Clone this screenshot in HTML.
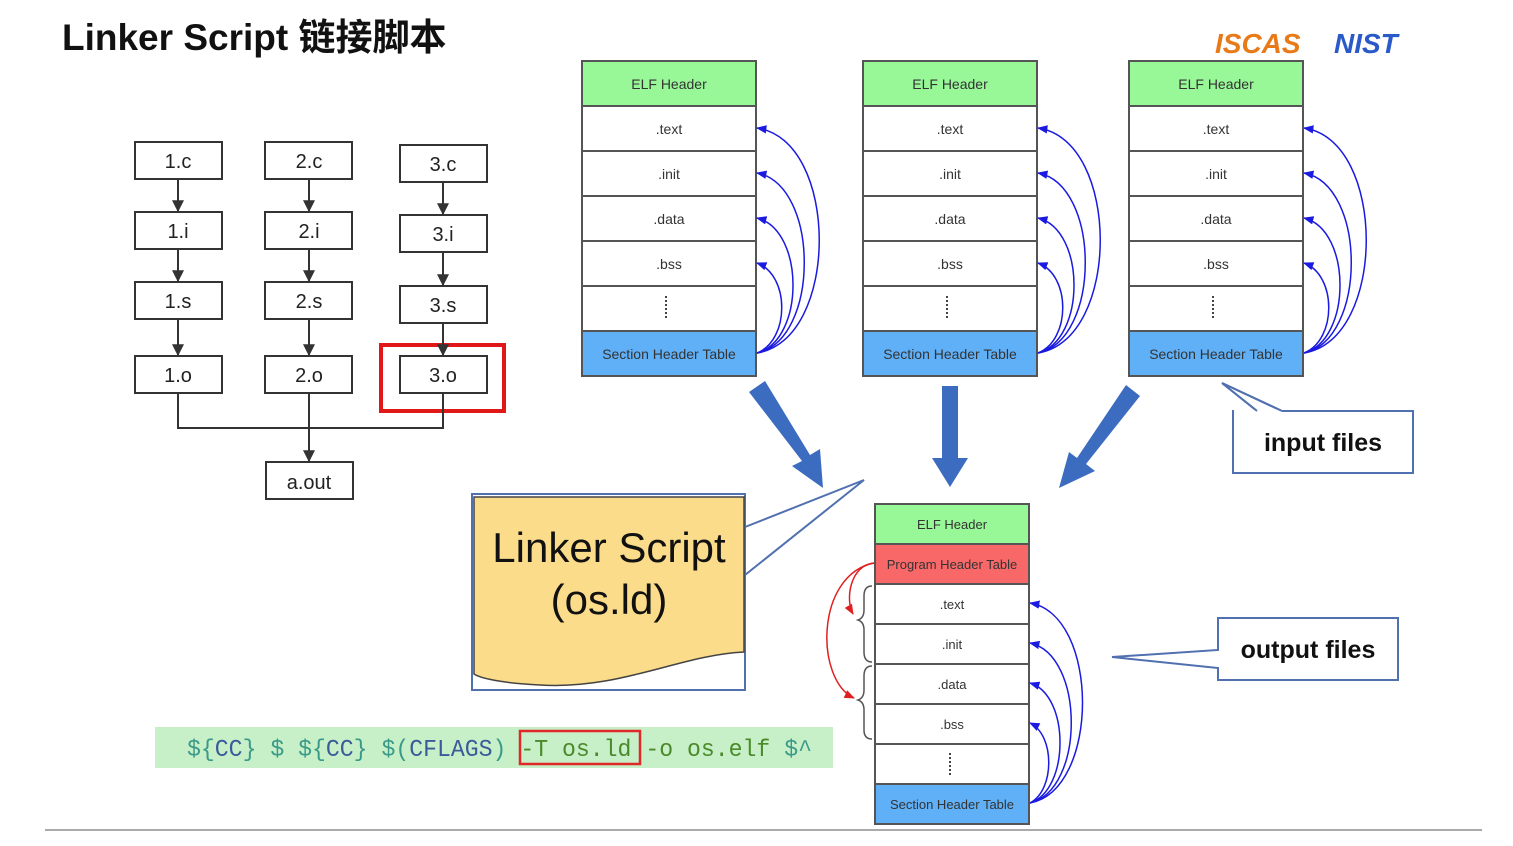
<!DOCTYPE html>
<html><head><meta charset="utf-8"><style>
body{margin:0;background:#fff}
svg{display:block}
text{font-family:"Liberation Sans","Noto Sans CJK SC",sans-serif}
text.mono{font-family:"Liberation Mono","DejaVu Sans Mono",monospace}
</style></head><body>
<svg width="1513" height="846" viewBox="0 0 1513 846" xmlns="http://www.w3.org/2000/svg">
<defs>
<marker id="ab" viewBox="0 0 10 10" refX="9" refY="5" markerWidth="7" markerHeight="7" orient="auto"><path d="M0,1 L10,5 L0,9z" fill="#1a1ae0"/></marker>
<marker id="ar" viewBox="0 0 10 10" refX="9" refY="5" markerWidth="7" markerHeight="7" orient="auto"><path d="M0,1 L10,5 L0,9z" fill="#e02020"/></marker>
<marker id="ak" viewBox="0 0 10 10" refX="9" refY="5" markerWidth="6" markerHeight="6" orient="auto"><path d="M0,0 L10,5 L0,10z" fill="#333"/></marker>
</defs>
<text x="62" y="50" font-size="37" font-weight="bold" fill="#111">Linker Script 链接脚本</text>
<text x="1215" y="53" font-size="28" font-weight="bold" font-style="italic" fill="#e87a1a">ISCAS</text>
<text x="1334" y="53" font-size="28" font-weight="bold" font-style="italic" fill="#2a5ac8">NIST</text>

<g fill="#fff" stroke="#333" stroke-width="2">
<rect x="135" y="142" width="87" height="37"/><rect x="135" y="212" width="87" height="37"/><rect x="135" y="282" width="87" height="37"/><rect x="135" y="356" width="87" height="37"/>
<rect x="265" y="142" width="87" height="37"/><rect x="265" y="212" width="87" height="37"/><rect x="265" y="282" width="87" height="37"/><rect x="265" y="356" width="87" height="37"/>
<rect x="400" y="145" width="87" height="37"/><rect x="400" y="215" width="87" height="37"/><rect x="400" y="286" width="87" height="37"/><rect x="400" y="356" width="87" height="37"/>
<rect x="266" y="462" width="87" height="37"/>
</g>
<rect x="381" y="345" width="123" height="66" fill="none" stroke="#e01818" stroke-width="4"/>
<g stroke="#333" stroke-width="2" fill="none" marker-end="url(#ak)">
<line x1="178" y1="179" x2="178" y2="211"/><line x1="178" y1="249" x2="178" y2="281"/><line x1="178" y1="319" x2="178" y2="355"/>
<line x1="309" y1="179" x2="309" y2="211"/><line x1="309" y1="249" x2="309" y2="281"/><line x1="309" y1="319" x2="309" y2="355"/>
<line x1="443" y1="182" x2="443" y2="214"/><line x1="443" y1="252" x2="443" y2="285"/><line x1="443" y1="323" x2="443" y2="355"/>
<line x1="309" y1="393" x2="309" y2="461"/>
</g>
<path d="M178 393 V428 H443 V393" stroke="#333" stroke-width="2" fill="none"/>
<g font-size="20" fill="#222" text-anchor="middle">
<text x="178" y="168">1.c</text><text x="178" y="238">1.i</text><text x="178" y="308">1.s</text><text x="178" y="382">1.o</text>
<text x="309" y="168">2.c</text><text x="309" y="238">2.i</text><text x="309" y="308">2.s</text><text x="309" y="382">2.o</text>
<text x="443" y="171">3.c</text><text x="443" y="241">3.i</text><text x="443" y="312">3.s</text><text x="443" y="382">3.o</text>
<text x="309" y="489">a.out</text>
</g>

<g id="elf">
<rect x="582" y="61" width="174" height="45" fill="#98f898" stroke="#555" stroke-width="2"/>
<rect x="582" y="106" width="174" height="225" fill="#fff" stroke="#555" stroke-width="2"/>
<g stroke="#555" stroke-width="2"><line x1="582" y1="151" x2="756" y2="151"/><line x1="582" y1="196" x2="756" y2="196"/><line x1="582" y1="241" x2="756" y2="241"/><line x1="582" y1="286" x2="756" y2="286"/></g>
<rect x="582" y="331" width="174" height="45" fill="#60b0f8" stroke="#555" stroke-width="2"/>
<line x1="666" y1="296" x2="666" y2="320" stroke="#444" stroke-width="2" stroke-dasharray="2,2"/>
<g font-size="14" fill="#333" text-anchor="middle">
<text x="669" y="89">ELF Header</text><text x="669" y="134">.text</text><text x="669" y="179">.init</text><text x="669" y="224">.data</text><text x="669" y="269">.bss</text><text x="669" y="359">Section Header Table</text>
</g>
<g stroke="#1a1ae0" stroke-width="1.5" fill="none" marker-end="url(#ab)">
<path d="M757 353 C840 340 840 140 757 128"/>
<path d="M757 353 C820 340 820 185 757 173"/>
<path d="M757 353 C805 340 805 230 757 218"/>
<path d="M757 353 C790 340 790 275 757 263"/>
</g>
</g>
<use href="#elf" x="281"/>
<use href="#elf" x="547"/>

<g fill="#3c6cc0">
<polygon points="749,392 765,381 810,455 820,449 823,488 792,466 802,461"/>
<polygon points="942,386 958,386 958,458 968,458 950,487 932,458 942,458"/>
<polygon points="1126,385 1140,396 1086,464 1095,471 1059,488 1069,452 1077,458"/>
</g>

<path d="M1222 383 L1282 411 L1413 411 L1413 473 L1233 473 L1233 411 L1257 411 Z" fill="#fff" stroke="#5070b0" stroke-width="2"/>
<line x1="1234" y1="411" x2="1282" y2="411" stroke="#fff" stroke-width="3"/>
<path d="M1222 383 L1282 411 M1222 383 L1257 411" stroke="#5070b0" stroke-width="2" fill="none"/>
<text x="1323" y="451" font-size="25" font-weight="bold" fill="#111" text-anchor="middle">input files</text>
<path d="M1218 618 H1398 V680 H1218 V668 L1112 657 L1218 650 Z" fill="#fff" stroke="#5070b0" stroke-width="2"/>
<text x="1308" y="658" font-size="25" font-weight="bold" fill="#111" text-anchor="middle">output files</text>

<path d="M745 527 L864 480 L745 575" fill="#fff" stroke="#5070b0" stroke-width="2"/>
<rect x="472" y="494" width="273" height="196" fill="#fff" stroke="#5070b0" stroke-width="2"/>
<path d="M474 497 H744 V652 C680 655 620 690 540 685 C500 683 480 678 474 674 Z" fill="#fbdc8a" stroke="#444" stroke-width="1.5"/>
<text x="609" y="562" font-size="42" fill="#111" text-anchor="middle">Linker Script</text>
<text x="609" y="614" font-size="42" fill="#111" text-anchor="middle">(os.ld)</text>

<rect x="155" y="727" width="678" height="41" fill="#c8f0c8"/>
<rect x="520" y="731" width="120" height="33" fill="none" stroke="#e02828" stroke-width="2.5"/>
<text class="mono" x="187" y="756" font-size="24" textLength="625" lengthAdjust="spacingAndGlyphs" fill="#3a9a8a" xml:space="preserve">${<tspan fill="#3a5a9a">CC</tspan>} $ ${<tspan fill="#3a5a9a">CC</tspan>} $(<tspan fill="#3a5a9a">CFLAGS</tspan>) <tspan fill="#4a8a2a">-T os.ld -o os.elf</tspan> $^</text>

<rect x="875" y="504" width="154" height="40" fill="#98f898" stroke="#555" stroke-width="2"/>
<rect x="875" y="544" width="154" height="40" fill="#f86868" stroke="#555" stroke-width="2"/>
<rect x="875" y="584" width="154" height="200" fill="#fff" stroke="#555" stroke-width="2"/>
<g stroke="#555" stroke-width="2"><line x1="875" y1="624" x2="1029" y2="624"/><line x1="875" y1="664" x2="1029" y2="664"/><line x1="875" y1="704" x2="1029" y2="704"/><line x1="875" y1="744" x2="1029" y2="744"/></g>
<rect x="875" y="784" width="154" height="40" fill="#60b0f8" stroke="#555" stroke-width="2"/>
<line x1="950" y1="753" x2="950" y2="775" stroke="#444" stroke-width="2" stroke-dasharray="2,2"/>
<g font-size="13" fill="#333" text-anchor="middle">
<text x="952" y="529">ELF Header</text><text x="952" y="569">Program Header Table</text><text x="952" y="609">.text</text><text x="952" y="649">.init</text><text x="952" y="689">.data</text><text x="952" y="729">.bss</text><text x="952" y="809">Section Header Table</text>
</g>
<g stroke="#555" stroke-width="1.5" fill="none">
<path d="M872 586 Q864 586 864 596 V610 Q864 618 858 620 Q864 622 864 630 V652 Q864 662 872 662"/>
<path d="M872 666 Q864 666 864 676 V690 Q864 698 858 700 Q864 702 864 710 V730 Q864 739 872 739"/>
</g>
<g stroke="#e02020" stroke-width="1.5" fill="none" marker-end="url(#ar)">
<path d="M874 563 C850 565 845 600 853 614"/>
<path d="M874 563 C815 575 815 680 854 698"/>
</g>
<g stroke="#1a1ae0" stroke-width="1.5" fill="none" marker-end="url(#ab)">
<path d="M1030 803 C1100 790 1100 615 1030 603"/>
<path d="M1030 803 C1085 790 1085 655 1030 643"/>
<path d="M1030 803 C1070 790 1070 695 1030 683"/>
<path d="M1030 803 C1055 790 1055 735 1030 723"/>
</g>

<line x1="45" y1="830" x2="1482" y2="830" stroke="#aaa" stroke-width="2"/>
</svg>
</body></html>
